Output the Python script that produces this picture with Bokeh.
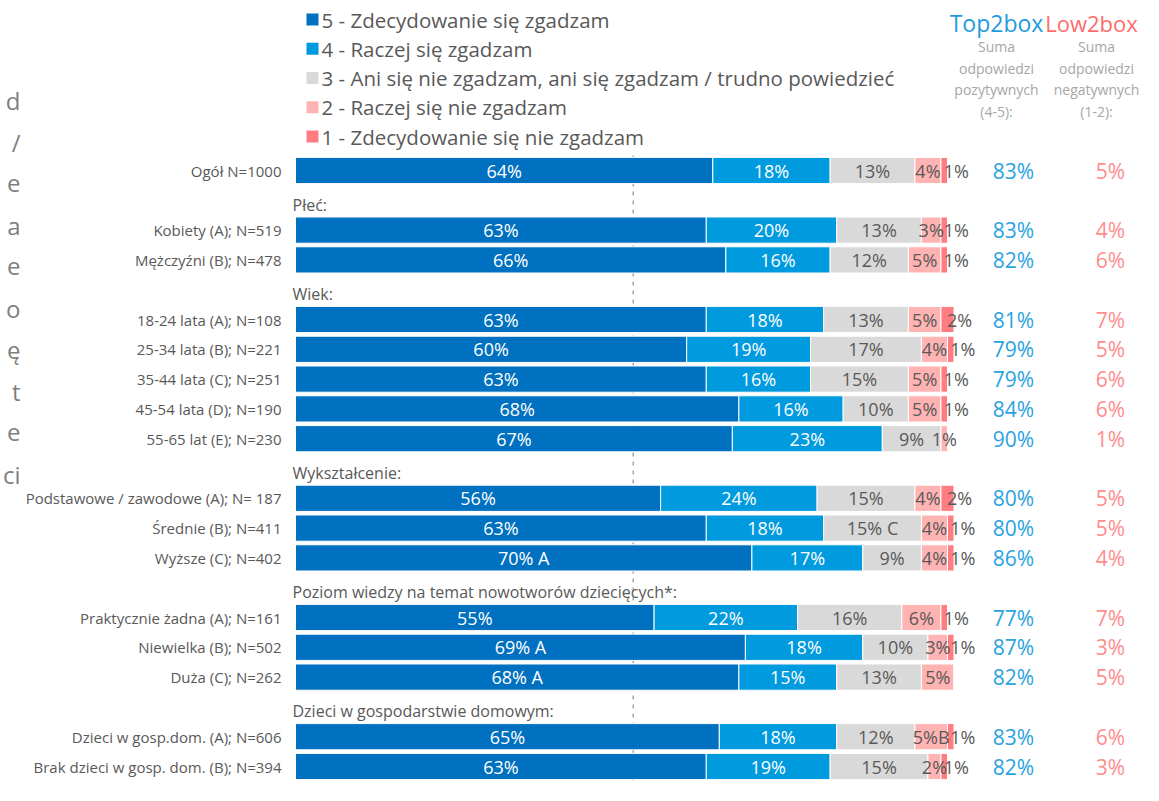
from bokeh.plotting import figure
from bokeh.models import Range1d, ColumnDataSource
from bokeh.embed import file_html
from bokeh.resources import INLINE
from bokeh.core.properties import value

# ---------------- data ----------------
groups = [None, "Płeć:", "Wiek:", "Wykształcenie:",
          "Poziom wiedzy na temat nowotworów dziecięcych*:",
          "Dzieci w gospodarstwie domowym:"]
group_sizes = [1, 2, 5, 3, 3, 2]
categories = ["Ogół N=1000",
              "Kobiety (A); N=519", "Mężczyźni (B); N=478",
              "18-24 lata (A); N=108", "25-34 lata (B); N=221", "35-44 lata (C); N=251",
              "45-54 lata (D); N=190", "55-65 lat (E); N=230",
              "Podstawowe / zawodowe (A); N= 187", "Średnie (B); N=411", "Wyższe (C); N=402",
              "Praktycznie żadna (A); N=161", "Niewielka (B); N=502", "Duża (C); N=262",
              "Dzieci w gosp.dom. (A); N=606", "Brak dzieci w gosp. dom. (B); N=394"]
s5 = [64, 63, 66, 63, 60, 63, 68, 67, 56, 63, 70, 55, 69, 68, 65, 63]
s4 = [18, 20, 16, 18, 19, 16, 16, 23, 24, 18, 17, 22, 18, 15, 18, 19]
s3 = [13, 13, 12, 13, 17, 15, 10, 9, 15, 15, 9, 16, 10, 13, 12, 15]
s2 = [4, 3, 5, 5, 4, 5, 5, 1, 4, 4, 4, 6, 3, 5, 5, 2]
s1 = [1, 1, 1, 2, 1, 1, 1, 0, 2, 1, 1, 1, 1, 0, 1, 1]
sig5 = ["", "", "", "", "", "", "", "", "", "", " A", "", " A", " A", "", ""]
sig4 = [""] * 16
sig3 = ["", "", "", "", "", "", "", "", "", " C", "", "", "", "", "", ""]
sig2 = ["", "", "", "", "", "", "", "", "", "", "", "", "", "", "B", ""]
sig1 = [""] * 16
top2box = [83, 83, 82, 81, 79, 79, 84, 90, 80, 80, 86, 77, 87, 82, 83, 82]
low2box = [5, 4, 6, 7, 5, 6, 6, 1, 5, 5, 4, 7, 3, 5, 6, 3]
legend_labels = ["5 - Zdecydowanie się zgadzam", "4 - Raczej się zgadzam",
                 "3 - Ani się nie zgadzam, ani się zgadzam  / trudno powiedzieć",
                 "2 - Raczej się nie zgadzam", "1 - Zdecydowanie się nie zgadzam"]
top_title = "Top2box"
top_sub = ["Suma", "odpowiedzi", "pozytywnych", "(4-5):"]
low_title = "Low2box"
low_sub = ["Suma", "odpowiedzi", "negatywnych", "(1-2):"]
side_fragments = ["d", "/", "e", "a", "e", "o", "ę", "t", "e", "ci"]
reference_line = 51.8

# ---------------- style ----------------
colors = ["#0070C0", "#009ADE", "#D9D9D9", "#FFB3B3", "#FF7C80"]
label_colors = ["white", "white", "#595959", "#595959", "#595959"]
FONT = value("Open Sans")
GRAY = "#595959"

W, H = 1143, 785
PX_PER_PCT = 6.52
X_ZERO = 295
ROW_PX = 29.8
Y_ZERO = 170


def X(px):
    return (px - X_ZERO) / PX_PER_PCT


def Y(py):
    return (py - Y_ZERO) / ROW_PX


# slots
row_slots, header_slots = [], []
slot = 0
for g, n in zip(groups, group_sizes):
    if g is not None:
        header_slots.append(slot)
        slot += 1
    for _ in range(n):
        row_slots.append(slot)
        slot += 1

p = figure(width=W, height=H, output_backend="svg", toolbar_location=None,
           x_range=Range1d(X(0), X(W)), y_range=Range1d(Y(H), Y(0)),
           min_border=0)
p.axis.visible = False
p.grid.visible = False
p.outline_line_color = None
p.background_fill_color = "white"
p.border_fill_color = "white"

# dashed reference line
p.segment(x0=[reference_line], x1=[reference_line], y0=[Y(155)], y1=[Y(800)],
          line_color="#A6A6A6", line_width=1.5, line_dash="4 5")

series = [s5, s4, s3, s2, s1]
sigs = [sig5, sig4, sig3, sig2, sig1]
left = [0] * len(categories)
lab_x, lab_y, lab_t, lab_c = [], [], [], []
for k, (vals, sg) in enumerate(zip(series, sigs)):
    right = [l + v for l, v in zip(left, vals)]
    src = ColumnDataSource(dict(y=row_slots, left=left, right=right))
    p.hbar(y="y", left="left", right="right", height=0.88, source=src,
           fill_color=colors[k], line_color="white", line_width=1)
    for i, v in enumerate(vals):
        if v <= 0:
            continue
        cx = (left[i] + right[i]) / 2
        if k == 4:
            cx += 12 / PX_PER_PCT
        lab_x.append(cx)
        lab_y.append(row_slots[i])
        lab_t.append(f"{v}%{sg[i]}")
        lab_c.append(label_colors[k])
    left = right

p.text(x=lab_x, y=lab_y, text=lab_t, text_color=lab_c, text_font=FONT,
       text_font_size="18px", text_align="center", text_baseline="middle")

# category labels
p.text(x=[X(281)] * len(categories), y=row_slots, text=categories,
       text_color=GRAY, text_font=FONT, text_font_size="15px",
       text_align="right", text_baseline="middle")

# group headers
hdr = [g for g in groups if g is not None]
p.text(x=[X(292)] * len(hdr), y=[s + 0.15 for s in header_slots], text=hdr,
       text_color=GRAY, text_font=FONT, text_font_size="16px",
       text_align="left", text_baseline="middle")

# top2box / low2box values
p.text(x=[X(1013)] * len(top2box), y=row_slots, text=[f"{v}%" for v in top2box],
       text_color="#29A3E0", text_font=FONT, text_font_size="21px",
       text_align="center", text_baseline="middle")
p.text(x=[X(1110)] * len(low2box), y=row_slots, text=[f"{v}%" for v in low2box],
       text_color="#FF8C8C", text_font=FONT, text_font_size="21px",
       text_align="center", text_baseline="middle")

# column headers
p.text(x=[X(996)], y=[Y(22)], text=[top_title], text_color="#1F9BDE", text_font=FONT,
       text_font_size="23px", text_align="center", text_baseline="middle")
p.text(x=[X(1091)], y=[Y(22)], text=[low_title], text_color="#FF6B6B", text_font=FONT,
       text_font_size="22px", text_align="center", text_baseline="middle")
sub_y = [Y(46 + 21.7 * i) for i in range(len(top_sub))]
p.text(x=[X(996)] * len(top_sub), y=sub_y, text=top_sub, text_color="#A6A6A6",
       text_font=FONT, text_font_size="14px", text_align="center", text_baseline="middle")
p.text(x=[X(1096)] * len(low_sub), y=sub_y, text=low_sub, text_color="#A6A6A6",
       text_font=FONT, text_font_size="14px", text_align="center", text_baseline="middle")

# legend
leg_y = [Y(19 + 29.25 * i) for i in range(len(legend_labels))]
p.scatter(x=[X(312)] * len(legend_labels), y=leg_y, marker="square", size=12,
          fill_color=colors, line_color=None)
p.text(x=[X(321)] * len(legend_labels), y=leg_y, text=legend_labels,
       text_color=GRAY, text_font=FONT, text_font_size="20.5px",
       text_align="left", text_baseline="middle")

# cut-off text on the left edge
frag_y = [Y(100 + 41.5 * i) for i in range(len(side_fragments))]
p.text(x=[X(20)] * len(side_fragments), y=frag_y, text=side_fragments,
       text_color="#7F7F7F", text_font=FONT, text_font_size="24px",
       text_align="right", text_baseline="middle")

open("out.html", "w").write(file_html(p, INLINE))
